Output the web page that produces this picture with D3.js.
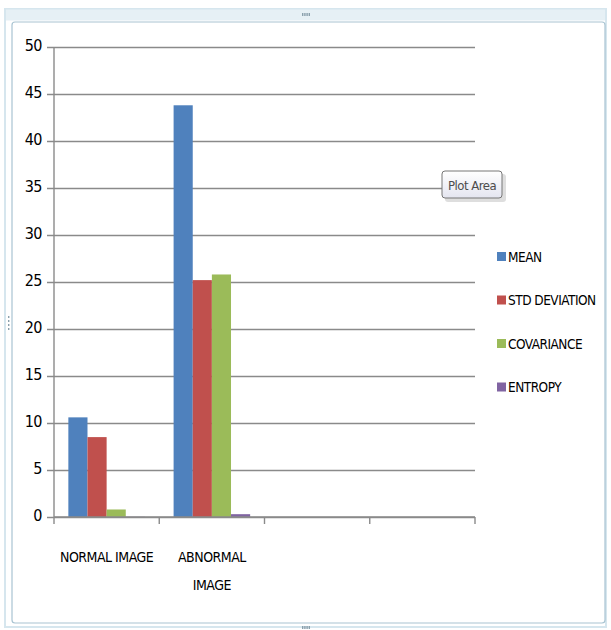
<!DOCTYPE html>
<html>
<head>
<meta charset="utf-8">
<script src="https://cdn.jsdelivr.net/npm/d3@7"></script>
<style>
  html, body { margin: 0; padding: 0; background: #fff; }
  svg text { font-family: "DejaVu Sans Condensed", "Liberation Sans Narrow", sans-serif; font-stretch: condensed; fill: #000; letter-spacing: -0.5px; }
</style>
</head>
<body>
<svg width="611" height="630"></svg>
<script>
const categories = ['NORMAL IMAGE', 'ABNORMAL IMAGE', '', ''];
const seriesNames = ['MEAN', 'STD DEVIATION', 'COVARIANCE', 'ENTROPY'];
const meanValues = [10.6, 43.8, null, null];
const stdValues = [8.5, 25.2, null, null];
const covValues = [0.8, 25.8, null, null];
const entropyValues = [0.02, 0.3, null, null];
const yTicks = [0, 5, 10, 15, 20, 25, 30, 35, 40, 45, 50];
const colors = ['#4F81BD', '#C0504D', '#9BBB59', '#8064A2'];

const series = [meanValues, stdValues, covValues, entropyValues];
const data = categories.map((c, i) => ({
  category: i,
  label: c,
  values: seriesNames.map((s, k) => ({ key: s, value: series[k][i] }))
}));

const svg = d3.select('svg');
const margin = { top: 47, left: 54 };
const width = 421;
const height = 470;

// chart frame (Excel-like selection border)
const frame = svg.append('g');
frame.append('rect')
  .attr('x', 5).attr('y', 9).attr('width', 601).attr('height', 618)
  .attr('fill', 'none').attr('stroke', '#d6e6ee').attr('stroke-width', 2);
frame.append('rect')
  .attr('x', 12).attr('y', 22).attr('width', 593).attr('height', 601)
  .attr('rx', 3)
  .attr('fill', '#fff').attr('stroke', '#a9c4d2').attr('stroke-width', 1.2);
frame.append('line')
  .attr('x1', 6).attr('x2', 605).attr('y1', 15).attr('y2', 15)
  .attr('stroke', '#e6f0f5').attr('stroke-width', 11);
[[302, 13, 'h'], [302, 626, 'h'], [8, 316, 'v']].forEach(([hx, hy, dir]) => {
  for (let i = 0; i < 4; i++) {
    frame.append('rect')
      .attr('x', dir === 'h' ? hx + i * 2.2 : hx)
      .attr('y', dir === 'h' ? hy : hy + i * 4)
      .attr('width', 1.4).attr('height', dir === 'h' ? 3 : 2)
      .attr('fill', '#8aa0ac');
  }
});

const g = svg.append('g')
  .attr('transform', `translate(${margin.left},${margin.top})`);

const x0 = d3.scaleBand()
  .domain(d3.range(categories.length))
  .range([0, width]);
// Excel gap width 150%: 4 bars + 1.5 bar gap per category
const barW = x0.bandwidth() / (seriesNames.length + 1.5);
const x1 = d3.scaleBand()
  .domain(seriesNames)
  .range([0.75 * barW, 0.75 * barW + seriesNames.length * barW]);
const y = d3.scaleLinear().domain([0, 50]).range([height, 0]);
const z = d3.scaleOrdinal().domain(seriesNames).range(colors);

// Gridlines + Y axis
const yAxis = g.append('g')
  .call(d3.axisLeft(y).tickValues(yTicks).tickSize(-width).tickSizeOuter(0).tickPadding(12));
yAxis.select('.domain').remove();
yAxis.selectAll('.tick line')
  .attr('x1', -7)
  .attr('stroke', '#8a8a8a').attr('stroke-width', 1.6);
yAxis.selectAll('.tick text')
  .attr('dy', '0.2em')
  .style('font-size', '16px');

g.append('line')
  .attr('x1', 0).attr('x2', 0).attr('y1', 0).attr('y2', height)
  .attr('stroke', '#8a8a8a').attr('stroke-width', 1.4);

// Bars
g.append('g')
  .selectAll('g')
  .data(data)
  .join('g')
  .attr('transform', d => `translate(${x0(d.category)},0)`)
  .selectAll('rect')
  .data(d => d.values.filter(v => v.value !== null))
  .join('rect')
  .attr('x', d => x1(d.key))
  .attr('y', d => y(d.value))
  .attr('width', x1.bandwidth())
  .attr('height', d => height - y(d.value))
  .attr('fill', d => z(d.key));

// X axis
const xAxis = g.append('g')
  .attr('transform', `translate(0,${height})`);
xAxis.append('line')
  .attr('x1', 0).attr('x2', width)
  .attr('stroke', '#8a8a8a').attr('stroke-width', 1.6);
xAxis.selectAll('line.tick')
  .data(d3.range(categories.length + 1))
  .join('line')
  .attr('class', 'tick')
  .attr('x1', d => d * x0.step()).attr('x2', d => d * x0.step())
  .attr('y1', 0).attr('y2', 7)
  .attr('stroke', '#8a8a8a').attr('stroke-width', 1.4);

const labels = xAxis.selectAll('text')
  .data(data)
  .join('text')
  .attr('text-anchor', 'middle')
  .attr('x', d => x0(d.category) + x0.bandwidth() / 2)
  .attr('y', 45)
  .style('font-size', '14px');
labels.each(function (d) {
  const t = d3.select(this);
  const words = d.label.split(' ');
  let line = [];
  let tspan = t.append('tspan').attr('x', t.attr('x')).attr('dy', 0);
  words.forEach(w => {
    line.push(w);
    tspan.text(line.join(' '));
    if (tspan.node().getComputedTextLength() > 97 && line.length > 1) {
      line.pop();
      tspan.text(line.join(' '));
      line = [w];
      tspan = t.append('tspan').attr('x', t.attr('x')).attr('dy', '2em').text(w);
    }
  });
});

// Legend
const legend = svg.append('g')
  .attr('transform', 'translate(497,257)')
  .selectAll('g')
  .data(seriesNames)
  .join('g')
  .attr('transform', (d, i) => `translate(0,${i * 43.5})`);
legend.append('rect')
  .attr('x', 0).attr('y', -5)
  .attr('width', 9).attr('height', 9)
  .attr('fill', z);
legend.append('text')
  .attr('x', 11)
  .attr('y', 0)
  .attr('dy', '0.35em')
  .style('font-size', '13.5px')
  .text(d => d);

// "Plot Area" tooltip
const defs = svg.append('defs');
const grad = defs.append('linearGradient')
  .attr('id', 'tip').attr('x1', 0).attr('y1', 0).attr('x2', 0).attr('y2', 1);
grad.append('stop').attr('offset', '0%').attr('stop-color', '#ffffff');
grad.append('stop').attr('offset', '100%').attr('stop-color', '#e4e5f0');
const tip = svg.append('g').attr('transform', 'translate(442,171)');
tip.append('rect')
  .attr('x', 3).attr('y', 3).attr('width', 61).attr('height', 28).attr('rx', 3)
  .attr('fill', '#c8c8c8').attr('opacity', 0.6);
tip.append('rect')
  .attr('width', 60).attr('height', 27).attr('rx', 3)
  .attr('fill', 'url(#tip)').attr('stroke', '#767676').attr('stroke-width', 1);
tip.append('text')
  .attr('x', 30).attr('y', 14).attr('dy', '0.35em')
  .attr('text-anchor', 'middle')
  .style('font-size', '13px')
  .style('fill', '#4c4c4c')
  .text('Plot Area');
</script>
</body>
</html>
